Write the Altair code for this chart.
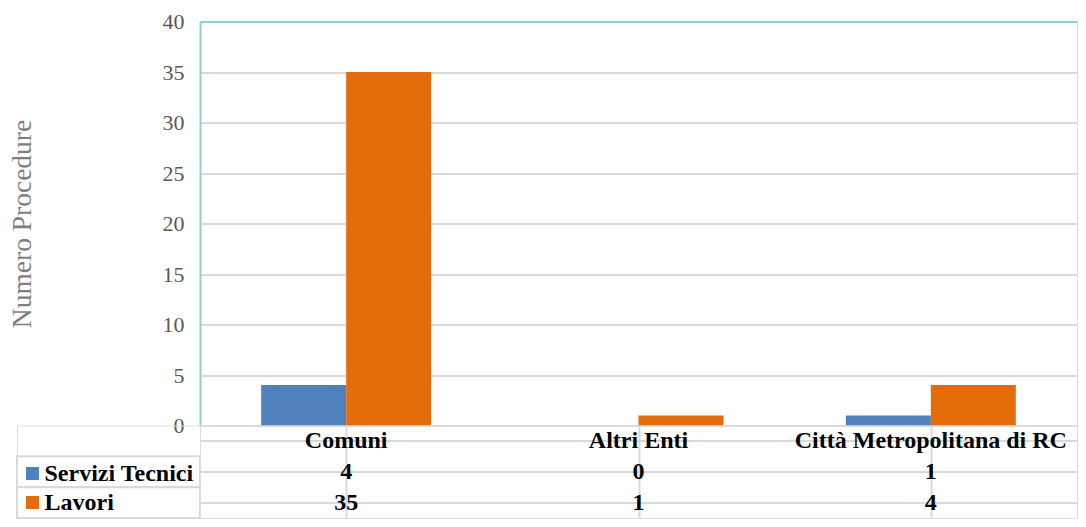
import altair as alt
import pandas as pd

# ---- data ----
categories = ["Comuni", "Altri Enti", "Città Metropolitana di RC"]
series = ["Servizi Tecnici", "Lavori"]
servizi_tecnici = [4, 0, 1]
lavori = [35, 1, 4]
y_ticks = [0, 5, 10, 15, 20, 25, 30, 35, 40]
colors = ["#4F81BD", "#E46C0A"]

FONT = "Liberation Serif"
GRID = "#D9D9D9"
BORDER = "#92CDDC"
HDR = "hdr"

values_by_series = {"Servizi Tecnici": servizi_tecnici, "Lavori": lavori}

bar_rows = []
for s in series:
    for c, v in zip(categories, values_by_series[s]):
        bar_rows.append({"categoria": c, "serie": s, "valore": v})
bar_df = pd.DataFrame(bar_rows)

table_rows = []
for c in categories:
    table_rows.append({"categoria": c, "riga": HDR, "testo": c})
for s in series:
    for c, v in zip(categories, values_by_series[s]):
        table_rows.append({"categoria": c, "riga": s, "testo": str(v)})
table_df = pd.DataFrame(table_rows)

rows_domain = [HDR] + series

PLOT_W = 877
LEFT_W = 183
BAR_H = 404
TAB_H = 92.5

x_scale = alt.Scale(domain=categories, paddingInner=0, paddingOuter=0)

bars = alt.Chart(bar_df).mark_bar().encode(
    x=alt.X("categoria:N", sort=categories, scale=x_scale, axis=None),
    xOffset=alt.XOffset("serie:N", sort=series,
                        scale=alt.Scale(domain=series, paddingInner=0, paddingOuter=0.72)),
    y=alt.Y("valore:Q", scale=alt.Scale(domain=[0, 40], nice=False),
            axis=alt.Axis(values=y_ticks, title="Numero Procedure",
                          labelFont=FONT, labelFontSize=22, labelColor="#595959",
                          labelPadding=16, ticks=False,
                          domain=True, domainColor=BORDER, domainWidth=2,
                          grid=True, gridWidth=2,
                          gridColor={"condition": {"test": "datum.value === 40", "value": BORDER},
                                     "value": GRID},
                          minExtent=38, maxExtent=38,
                          titleFont=FONT, titleFontSize=27.5, titleFontWeight="normal",
                          titleColor="#7F7F7F", titlePadding=126)),
    color=alt.Color("serie:N", sort=series,
                    scale=alt.Scale(domain=series, range=colors),
                    legend=alt.Legend(orient="none", legendX=3.5, legendY=440,
                                      direction="vertical", title=None,
                                      symbolType="square", symbolSize=169,
                                      symbolStrokeWidth=0, symbolOpacity=1,
                                      labelFont=FONT, labelFontSize=24,
                                      labelFontWeight="bold", labelColor="black",
                                      labelOffset=0, rowPadding=5, padding=0,
                                      labelLimit=400)),
).properties(width=PLOT_W, height=BAR_H)

table = alt.Chart(table_df).mark_text(
    font=FONT, fontSize=24, fontWeight="bold", color="black", baseline="middle"
).encode(
    x=alt.X("categoria:N", sort=categories, scale=x_scale,
            axis=alt.Axis(title=None, labels=False, ticks=False, domain=False,
                          grid=True, gridColor=GRID, gridWidth=2, bandPosition=0)),
    y=alt.Y("riga:N", sort=rows_domain,
            scale=alt.Scale(domain=rows_domain, paddingInner=0, paddingOuter=0),
            axis=alt.Axis(title=None, labels=False, ticks=False, domain=False,
                          grid=True, gridColor=GRID, gridWidth=2, bandPosition=1)),
    text="testo:N",
).properties(width=PLOT_W, height=TAB_H)

left_df = pd.DataFrame({"serie": series})
left_panel = alt.Chart(left_df).mark_rect(
    fill="white", stroke=GRID, strokeWidth=2
).encode(
    y=alt.Y("serie:N", sort=rows_domain,
            scale=alt.Scale(domain=rows_domain, paddingInner=0, paddingOuter=0),
            axis=None),
).properties(width=LEFT_W, height=TAB_H)

blank = alt.Chart(pd.DataFrame({"a": ["x"]})).mark_rect(opacity=0).encode(
    color=alt.value("transparent"),
).properties(width=LEFT_W, height=BAR_H)

chart = alt.concat(
    blank, bars, left_panel, table,
    columns=2, spacing=0, bounds="flush"
).properties(
    padding={"left": -1, "top": 1.5, "right": 0, "bottom": 0}
).configure_view(stroke="transparent").configure(background="white")

chart.save("out.html", embed_options={"renderer": "svg", "actions": False})
